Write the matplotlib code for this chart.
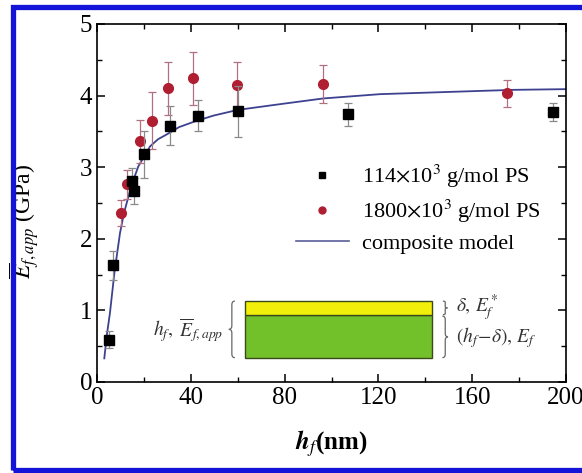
import matplotlib
matplotlib.use('Agg')
import matplotlib.pyplot as plt
from matplotlib.patches import Rectangle, PathPatch
from matplotlib.path import Path
from matplotlib.lines import Line2D

plt.rcParams['font.family'] = 'Liberation Serif'
plt.rcParams['mathtext.fontset'] = 'stix'

# 114x10^3 g/mol PS (black squares)
h_114 = [5.3, 7.0, 14.9, 15.9, 20.2, 31.1, 43.1, 60.3, 106.9, 194.6]
E_114 = [0.59, 1.63, 2.81, 2.67, 3.18, 3.58, 3.72, 3.78, 3.74, 3.77]
err_114 = [0.12, 0.20, 0.18, 0.18, 0.33, 0.27, 0.22, 0.36, 0.16, 0.12]

# 1800x10^3 g/mol PS (red circles)
h_1800 = [10.1, 12.9, 18.3, 23.3, 30.4, 40.8, 59.8, 96.5, 175.0]
E_1800 = [2.36, 2.76, 3.36, 3.65, 4.10, 4.24, 4.15, 4.16, 4.03]
err_1800 = [0.18, 0.20, 0.30, 0.40, 0.37, 0.37, 0.32, 0.27, 0.19]

# composite model curve
h_model = [3.1, 4.2, 5.5, 7.4, 9.8, 11.5, 13.4, 15.5, 17.6, 22.6, 26.0, 30.4,
           35.0, 41.8, 49.6, 60.0, 78.0, 96.5, 120.7, 149.0, 177.5, 200.0]
E_model = [0.33, 0.66, 0.96, 1.52, 2.08, 2.36, 2.59, 2.82, 3.01, 3.29, 3.39, 3.47,
           3.56, 3.64, 3.72, 3.80, 3.88, 3.96, 4.02, 4.05, 4.08, 4.09]

model_color = '#3d4290'
red = '#b01e32'


def brace(ax, x, y0, y1, w, facing='left'):
    # curly brace drawn as a bezier path, tip points to `facing`
    s = -1 if facing == 'left' else 1
    ym = (y0 + y1) / 2
    q = min((y1 - y0) * 0.08, 0.05)
    xb = x  # spine of the brace
    verts = [(xb + s * (-w / 2) * -1 * 0 + w * 0.5 * (-s) * -1, y1),
             (xb, y1), (xb, y1 - q),
             (xb, ym + q),
             (xb, ym), (xb + s * w * 0.5, ym),
             (xb, ym),
             (xb, ym - q),
             (xb, y0 + q),
             (xb, y0), (xb - s * w * 0.5, y0)]
    verts[0] = (xb - s * w * 0.5, y1)
    codes = [Path.MOVETO, Path.CURVE3, Path.CURVE3, Path.LINETO,
             Path.CURVE3, Path.CURVE3, Path.MOVETO, Path.LINETO,
             Path.LINETO, Path.CURVE3, Path.CURVE3]
    # rebuild as two halves so the tip is sharp
    top = Path([verts[0], (xb, y1), (xb, y1 - q), (xb, ym + q), (xb, ym),
                (xb + s * w * 0.5, ym)],
               [Path.MOVETO, Path.CURVE3, Path.CURVE3, Path.LINETO,
                Path.CURVE3, Path.CURVE3])
    bot = Path([(xb + s * w * 0.5, ym), (xb, ym), (xb, ym - q), (xb, y0 + q),
                (xb, y0), (xb - s * w * 0.5, y0)],
               [Path.MOVETO, Path.CURVE3, Path.CURVE3, Path.LINETO,
                Path.CURVE3, Path.CURVE3])
    for p in (top, bot):
        ax.add_patch(PathPatch(p, fill=False, edgecolor='#666666', lw=0.9))


fig = plt.figure(figsize=(5.82, 4.73), dpi=100)
ax = fig.add_axes([0.1667, 0.1924, 0.8058, 0.7569])

ax.plot(h_model, E_model, color=model_color, lw=1.3, zorder=2)
ax.errorbar(h_114, E_114, yerr=err_114, fmt='s', color='black', ms=7,
            ecolor='#8a8a8a', elinewidth=0.9, capsize=3, capthick=0.9, zorder=4)
ax.errorbar(h_1800, E_1800, yerr=err_1800, fmt='o', color=red, ms=7,
            ecolor='#b07080', elinewidth=0.9, capsize=3, capthick=0.9, zorder=3)

ax.set_xlim(0, 200)
ax.set_ylim(0, 5)
ax.set_xticks([0, 40, 80, 120, 160, 200])
ax.set_xticks([20, 60, 100, 140, 180], minor=True)
ax.set_yticks([0, 1, 2, 3, 4, 5])
ax.set_yticks([0.5, 1.5, 2.5, 3.5, 4.5], minor=True)
ax.tick_params(which='both', direction='in', top=True, right=True, labelsize=18)
ax.tick_params(which='major', length=6, width=1.1)
ax.tick_params(which='minor', length=3.5, width=1.0)
for s in ax.spines.values():
    s.set_linewidth(1.2)

ax.set_xlabel(r'$\mathbfit{h}_{f}$(nm)', fontsize=18, fontweight='bold')
ax.xaxis.set_label_coords(0.5, -0.13)
ax.set_ylabel(r'$\overline{E}_{f,app}$ (GPa)', fontsize=17)
ax.yaxis.set_label_coords(-0.12, 0.45)

handles = [
    Line2D([0], [0], marker='s', color='black', ls='none', ms=5),
    Line2D([0], [0], marker='o', color=red, ls='none', ms=5),
    Line2D([0], [0], color='#5a5f9a', lw=1.2),
]
labels = [r'114$\times$10$^3$ g/mol PS', r'1800$\times$10$^3$ g/mol PS',
          'composite model']
ax.legend(handles, labels, frameon=False, fontsize=16, loc='upper left',
          bbox_to_anchor=(0.381, 0.667), handlelength=2.4,
          handletextpad=0.6, labelspacing=0.35)

# inset: film schematic
ax.add_patch(Rectangle((63.1, 0.34), 79.8, 0.60, facecolor='#72c12a',
                       edgecolor='#3b4a1a', lw=1.0, zorder=1))
ax.add_patch(Rectangle((63.1, 0.94), 79.8, 0.19, facecolor='#f2ef0a',
                       edgecolor='#3b4a1a', lw=1.0, zorder=1))
brace(ax, 57.5, 0.34, 1.13, 2.6, facing='left')
brace(ax, 148.5, 0.94, 1.13, 2.0, facing='right')
brace(ax, 148.5, 0.34, 0.92, 2.4, facing='right')
ax.text(54, 0.72, r'$h_f,\ \overline{E}_{f,app}$', fontsize=14,
        ha='right', va='center', color='#333333')
ax.text(153, 1.04, r'$\delta,\,E_f^*$', fontsize=14, ha='left', va='center',
        color='#333333')
ax.text(153, 0.62, r'$(h_f\!-\!\delta),\,E_f$', fontsize=14, ha='left',
        va='center', color='#333333')

# blue frame around the figure (cut at the right edge)
fig.patches.append(Rectangle((12.5 / 582, 3.5 / 473), 1.1, 462 / 473,
                             transform=fig.transFigure, fill=False,
                             edgecolor='#1414d8', lw=3.8))

fig.savefig('out.png', dpi=100)
